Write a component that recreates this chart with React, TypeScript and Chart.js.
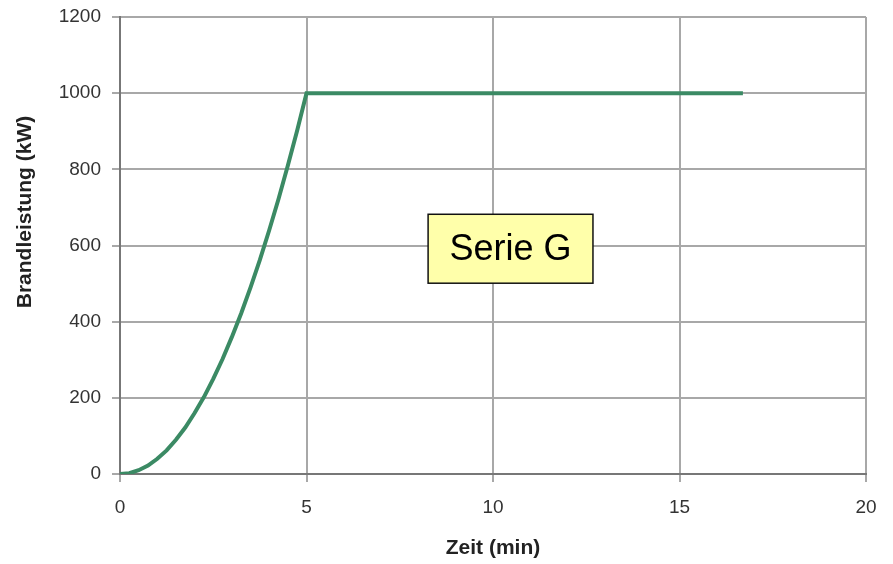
import React, { useEffect, useRef } from "react";
import { Chart, registerables } from "chart.js";

Chart.register(...registerables);

const timeMin: number[] = [0, 0.25, 0.5, 0.75, 1, 1.25, 1.5, 1.75, 2, 2.25, 2.5, 2.75, 3, 3.25, 3.5, 3.75, 4, 4.25, 4.5, 4.75, 5, 16.7];
const powerKW: number[] = [0, 2, 10, 22, 40, 62, 90, 122, 160, 202, 250, 302, 360, 422, 490, 562, 640, 722, 810, 902, 1000, 1000];
const xTicks: number[] = [0, 5, 10, 15, 20];
const yTicks: number[] = [0, 200, 400, 600, 800, 1000, 1200];
const seriesLabel = "Serie G";
const xTitle = "Zeit (min)";
const yTitle = "Brandleistung (kW)";

const FONT = "'Liberation Sans', Arial, sans-serif";

const boxPlugin = {
  id: "serieBox",
  afterDraw(chart: any) {
    const { ctx } = chart;
    const xs = chart.scales.x;
    const ys = chart.scales.y;
    const x0 = xs.getPixelForValue(8.26);
    const x1 = xs.getPixelForValue(12.68);
    const y0 = ys.getPixelForValue(682);
    const y1 = ys.getPixelForValue(501);
    ctx.save();
    ctx.fillStyle = "#ffffaa";
    ctx.fillRect(x0, y0, x1 - x0, y1 - y0);
    ctx.strokeStyle = "#111";
    ctx.lineWidth = 1.5;
    ctx.strokeRect(x0, y0, x1 - x0, y1 - y0);
    ctx.fillStyle = "#000";
    ctx.font = `36px ${FONT}`;
    ctx.textAlign = "center";
    ctx.textBaseline = "middle";
    ctx.fillText(seriesLabel, (x0 + x1) / 2, (y0 + y1) / 2 + 1);
    // y axis title
    const ty = ys.getPixelForValue(688);
    ctx.translate(25, ty);
    ctx.rotate(-Math.PI / 2);
    ctx.fillStyle = "#222";
    ctx.font = `bold 21px ${FONT}`;
    ctx.fillText(yTitle, 0, 0);
    ctx.restore();
  },
};

export default function App() {
  const ref = useRef<HTMLCanvasElement | null>(null);
  useEffect(() => {
    if (!ref.current) return;
    const chart = new Chart(ref.current, {
      type: "line",
      data: {
        datasets: [
          {
            label: seriesLabel,
            data: timeMin.map((t, i) => ({ x: t, y: powerKW[i] })),
            borderColor: "#3b8a64",
            borderWidth: 4,
            pointRadius: 0,
            fill: false,
            tension: 0,
          },
        ],
      },
      options: {
        animation: false,
        responsive: false,
        maintainAspectRatio: false,
        layout: { padding: { left: 0, right: 27, top: 17, bottom: 0 } },
        plugins: { legend: { display: false }, tooltip: { enabled: false } },
        scales: {
          x: {
            type: "linear",
            min: 0,
            max: 20,
            afterBuildTicks: (s: any) => {
              s.ticks = xTicks.map((v) => ({ value: v }));
            },
            afterFit: (s: any) => {
              s.height = 90;
              s.paddingLeft = 0;
              s.paddingRight = 0;
            },
            ticks: {
              color: "#333",
              font: { family: FONT, size: 19 },
              padding: 14,
              maxRotation: 0,
              callback: (v: any) => String(v),
            },
            grid: { color: "#a8a8a8", lineWidth: 2, tickLength: 8 },
            border: { color: "#777", width: 2 },
            title: {
              display: true,
              text: xTitle,
              color: "#222",
              font: { family: FONT, size: 21, weight: "bold" },
              padding: { top: 0, bottom: 3 },
            },
          },
          y: {
            type: "linear",
            min: 0,
            max: 1200,
            afterBuildTicks: (s: any) => {
              s.ticks = yTicks.map((v) => ({ value: v }));
            },
            afterFit: (s: any) => {
              s.width = 120;
              s.paddingTop = 0;
              s.paddingBottom = 0;
            },
            ticks: {
              color: "#333",
              font: { family: FONT, size: 19 },
              padding: 11,
              callback: (v: any) => String(v),
            },
            grid: { color: "#a8a8a8", lineWidth: 2, tickLength: 8 },
            border: { color: "#777", width: 2 },
            title: { display: false },
          },
        },
      },
      plugins: [boxPlugin],
    } as any);
    return () => chart.destroy();
  }, []);
  return (
    <div style={{ position: "fixed", left: 0, top: 0, width: 893, height: 564, background: "#fff" }}>
      <canvas ref={ref} width={893} height={564} style={{ width: 893, height: 564 }} />
    </div>
  );
}
